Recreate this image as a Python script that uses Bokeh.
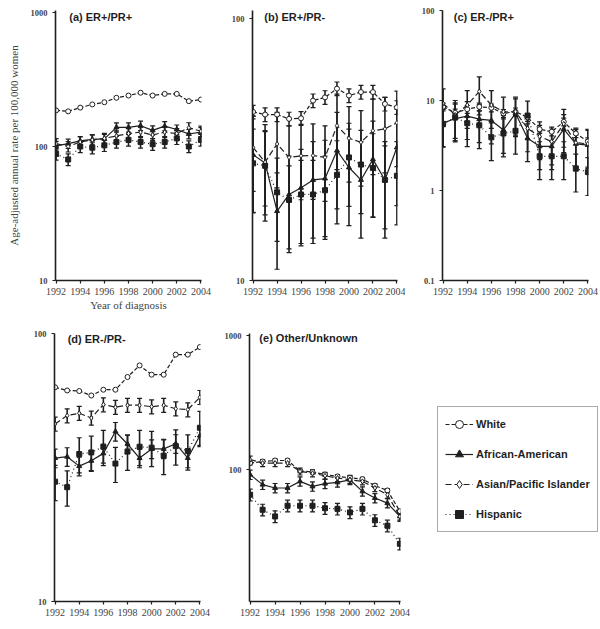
from bokeh.plotting import figure
from bokeh.models import (Range1d, FixedTicker, NumeralTickFormatter, Whisker, TeeHead,
                          ColumnDataSource, Label, Legend, LegendItem)
from bokeh.layouts import row, column
from bokeh.embed import file_html
from bokeh.resources import INLINE

years = list(range(1992, 2005))
names = ["White", "African-American", "Asian/Pacific Islander", "Hispanic"]

# (a) ER+/PR+
a_white = [186, 183, 195, 206, 214, 231, 240, 252, 240, 247, 247, 218, 224]
a_aa = [101, 105, 110, 113, 114, 139, 139, 143, 132, 142, 134, 124, 128]
a_asian = [105, 100, 108, 112, 115, 120, 125, 128, 122, 128, 125, 138, 130]
a_hisp = [88, 80, 100, 98, 102, 108, 112, 108, 104, 108, 115, 100, 112]
a_err = [0.02, 0.08, 0.09, 0.10]

# (b) ER+/PR-
b_white = [44, 43, 43, 41.4, 41.6, 48.6, 50, 54, 50.8, 52.4, 52.4, 47.2, 45.8]
b_aa = [30.2, 28.1, 18.4, 21.3, 22.6, 24.2, 24.5, 31.3, 27, 24.2, 29, 24.2, 32.2]
b_asian = [32.2, 28.3, 33.2, 29.5, 29.9, 30, 29.5, 39, 34.9, 33.7, 37.3, 37.9, 40]
b_hisp = [28, 27.4, 21.7, 20.3, 21.3, 21.3, 22.1, 25.3, 29.5, 27.7, 26.9, 24.2, 25.1]
b_err = [0.06, 0.40, 0.32, 0.35]

# (c) ER-/PR+
c_white = [8.5, 7.3, 8.0, 8.5, 8.3, 7.2, 7.5, 6.5, 4.8, 4.5, 5.8, 4.3, 3.5]
c_aa = [5.6, 6.3, 6.7, 6.2, 6.0, 4.7, 7.2, 3.8, 3.1, 3.1, 4.8, 3.3, 3.2]
c_asian = [9.3, 6.9, 8.9, 12.6, 8.9, 7.5, 7.5, 4.9, 4.0, 3.5, 5.5, 3.4, 3.3]
c_hisp = [5.5, 6.5, 5.6, 5.3, 3.9, 4.3, 4.6, 6.8, 2.4, 2.4, 2.4, 1.75, 1.6]
c_err = [0.10, 0.45, 0.45, 0.45]

# (d) ER-/PR-
d_white = [63, 61.3, 61, 58.7, 61.7, 61.7, 68.8, 76, 70.2, 70.2, 83.4, 83.4, 89]
d_aa = [34.3, 34.7, 32, 33.5, 35.7, 43.1, 38.7, 34.3, 37.1, 37.1, 38.8, 34.3, 41.6]
d_asian = [46, 49.4, 50.4, 48.4, 54.3, 53.1, 54, 54, 53.3, 54, 52.4, 52, 57.8]
d_hisp = [28, 26.7, 35.5, 36, 37.8, 32.7, 36.3, 37.8, 37.5, 35, 38, 36.4, 44.5]
d_err = [0.02, 0.08, 0.06, 0.15]

# (e) Other/Unknown
e_white = [112, 115, 117, 117, 98, 96, 92, 89, 87, 85, 76, 70, 49]
e_aa = [91.8, 77.3, 73, 73, 81.8, 75, 78.6, 80.4, 84, 68.9, 61.4, 56.3, 44.8]
e_asian = [119, 112, 112, 112, 97, 94, 90, 86.6, 84, 81.8, 73, 65, 44.8]
e_hisp = [65, 50.2, 44.8, 53.8, 53.8, 53.8, 51.6, 51, 48, 51, 41.9, 38.2, 28]
e_err = [0.03, 0.08, 0.06, 0.10]

INK = "#1f1f1f"
STY = {
    "White": dict(dash="4 2", marker="circle", fill="white"),
    "African-American": dict(dash="solid", marker="triangle", fill=INK),
    "Asian/Pacific Islander": dict(dash="6 3", marker="diamond", fill="white"),
    "Hispanic": dict(dash="1 3", marker="square", fill=INK),
}
SERIF = "Liberation Serif"
SANS = "Liberation Sans"


def panel(w, h, bl, br, bt, bb, ylo, yhi, yticks, title, tx, toff, series, errs,
          ylabel=None, xlabel=None):
    p = figure(width=w, height=h, y_axis_type="log", output_backend="svg",
               toolbar_location=None, x_range=Range1d(1991.95, 2004.05),
               y_range=Range1d(ylo, yhi), min_border_left=bl, min_border_right=br,
               min_border_top=bt, min_border_bottom=bb)
    p.outline_line_color = None
    p.grid.visible = False
    p.background_fill_color = "white"
    p.border_fill_color = "white"
    p.xaxis.ticker = FixedTicker(ticks=[1992, 1994, 1996, 1998, 2000, 2002, 2004])
    p.yaxis.ticker = FixedTicker(ticks=yticks)
    p.yaxis.formatter = NumeralTickFormatter(format="0.[0]")
    for ax in (p.xaxis, p.yaxis):
        ax.axis_line_color = INK
        ax.axis_line_width = 1.6
        ax.major_tick_line_color = INK
        ax.major_tick_line_width = 1.2
        ax.major_tick_in = 0
        ax.major_tick_out = 3
        ax.minor_tick_line_color = None
    p.xaxis.major_label_text_font = SERIF
    p.xaxis.major_label_text_font_size = "10px"
    p.xaxis.major_label_standoff = 4
    p.yaxis.major_label_text_font = SERIF
    p.yaxis.major_label_text_font_size = "8.5px"
    p.yaxis.major_label_text_font_style = "bold"
    p.yaxis.major_label_standoff = 5
    if ylabel:
        p.yaxis.axis_label = ylabel
        p.yaxis.axis_label_text_font = SERIF
        p.yaxis.axis_label_text_font_size = "11px"
        p.yaxis.axis_label_text_font_style = "normal"
        p.yaxis.axis_label_standoff = 8
    if xlabel:
        p.xaxis.axis_label = xlabel
        p.xaxis.axis_label_text_font = SERIF
        p.xaxis.axis_label_text_font_size = "11px"
        p.xaxis.axis_label_text_font_style = "normal"
        p.xaxis.axis_label_standoff = 1
    for name, vals, ef in zip(names, series, errs):
        s = STY[name]
        src = ColumnDataSource(dict(x=years, y=vals,
                                    lo=[v * (1 - ef) for v in vals],
                                    hi=[v * (1 + ef) for v in vals]))
        if ef > 0.025:
            wk = Whisker(source=src, base="x", lower="lo", upper="hi",
                         line_color=INK, line_width=1.6,
                         upper_head=TeeHead(size=5, line_color=INK, line_width=1.2),
                         lower_head=TeeHead(size=5, line_color=INK, line_width=1.2))
            p.add_layout(wk)
        p.line("x", "y", source=src, line_color=INK, line_width=1.2, line_dash=s["dash"])
        p.scatter("x", "y", source=src, marker=s["marker"], size=5,
                  line_color=INK, fill_color=s["fill"], line_width=1)
    p.add_layout(Label(x=tx, y=yhi, text=title, text_baseline="top", y_offset=toff,
                       text_font=SANS, text_font_style="bold", text_font_size="11px",
                       text_color=INK))
    return p


ylab = "Age-adjusted annual rate per 100,000 women"
# top row: height 317, shared frame 10..280
fa = panel(213, 317, 55, 12, 10, 37, 10, 1035, [10, 100, 1000], "(a) ER+/PR+", 1993.09, 0,
           [a_white, a_aa, a_asian, a_hisp], a_err, ylabel=ylab, xlabel="Year of diagnosis")
fb = panel(192, 317, 39, 8, 10, 37, 10, 107.3, [10, 100], "(b) ER+/PR-", 1992.94, 0,
           [b_white, b_aa, b_asian, b_hisp], b_err)
fc = panel(193, 317, 37, 10, 10, 37, 0.1, 100, [0.1, 1, 10, 100], "(c) ER-/PR+", 1992.88, 0,
           [c_white, c_aa, c_asian, c_hisp], c_err)
# bottom row: height 311, shared frame 333..601
fd = panel(213, 311, 54, 13, 16, 27, 10, 100, [10, 100], "(d) ER-/PR-", 1993.04, 1,
           [d_white, d_aa, d_asian, d_hisp], d_err)
fe = panel(202, 311, 36, 15, 16, 27, 10.4, 1035, [10, 100, 1000], "(e) Other/Unknown", 1992.74, 2,
           [e_white, e_aa, e_asian, e_hisp], e_err)

# legend panel (its frame shares the bottom row's 333..601 band)
fl = figure(width=183, height=311, output_backend="svg", toolbar_location=None,
            x_range=Range1d(0, 1), y_range=Range1d(0, 1),
            min_border_left=0, min_border_right=0, min_border_top=16, min_border_bottom=27)
fl.outline_line_color = None
fl.axis.visible = False
fl.grid.visible = False
items = []
for name in names:
    s = STY[name]
    r1 = fl.line(x=[-5, -4], y=[-5, -4], line_color=INK, line_width=1.2, line_dash=s["dash"])
    r2 = fl.scatter(x=[-5], y=[-5], marker=s["marker"], size=5, line_color=INK,
                    fill_color=s["fill"], line_width=1)
    items.append(LegendItem(label=name, renderers=[r1, r2]))
lg = Legend(items=items, location=(22, 69), glyph_width=28, glyph_height=20,
            label_height=20, spacing=10, padding=7, margin=0, label_standoff=3,
            label_text_font=SANS, label_text_font_style="bold", label_text_font_size="11px",
            label_text_color=INK, border_line_color="#555555", border_line_width=1.2,
            background_fill_color="white")
fl.add_layout(lg, "center")

layout = column(row(fa, fb, fc), row(fd, fe, fl))
open("out.html", "w").write(file_html(layout, INLINE))
